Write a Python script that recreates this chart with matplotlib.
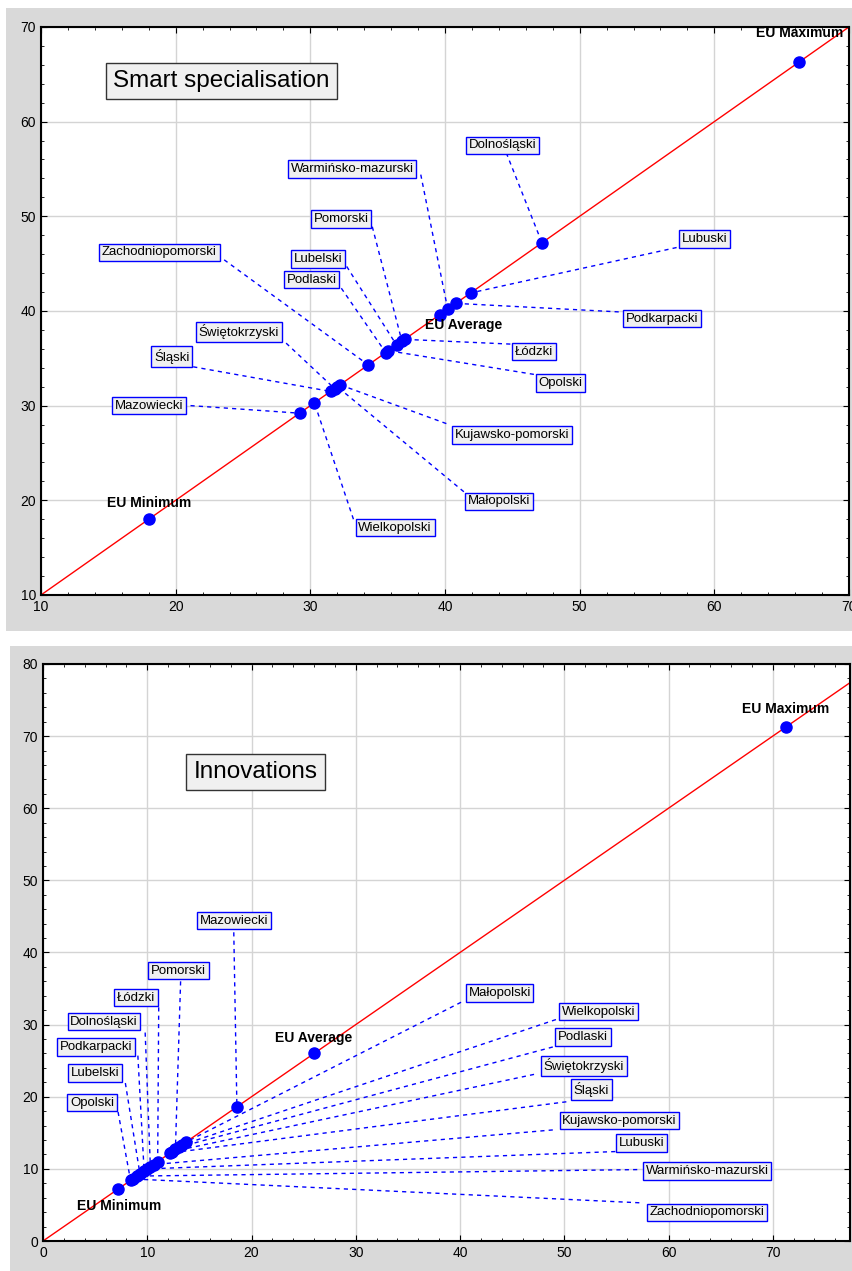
import matplotlib.pyplot as plt
from matplotlib.patches import Rectangle
from matplotlib.ticker import MultipleLocator

plt.rcParams['font.family'] = ['Liberation Sans', 'DejaVu Sans']

# region names and values (x = y, points lie on the diagonal)
regions = ['Dolnośląski', 'Kujawsko-pomorski', 'Lubelski', 'Lubuski', 'Łódzki',
           'Małopolski', 'Mazowiecki', 'Opolski', 'Podkarpacki', 'Podlaski',
           'Pomorski', 'Śląski', 'Świętokrzyski', 'Warmińsko-mazurski',
           'Wielkopolski', 'Zachodniopomorski']

smart_vals = [47.2, 32.2, 36.4, 41.9, 37.0,
              32.0, 29.2, 35.8, 40.8, 35.6,
              36.8, 31.5, 31.8, 40.2,
              30.3, 34.3]
smart_eu = {'EU Minimum': 18.0, 'EU Average': 39.6, 'EU Maximum': 66.3}

innov_vals = [10.3, 10.6, 9.3, 10.0, 11.0,
              13.7, 18.6, 8.4, 9.7, 13.0,
              12.7, 12.2, 12.4, 9.0,
              13.3, 8.6]
innov_eu = {'EU Minimum': 7.2, 'EU Average': 26.0, 'EU Maximum': 71.3}

# label box centres and leader-line start points (data coords)
smart_lab = [(44.3, 57.5), (45.0, 26.9), (30.6, 45.5), (59.3, 47.6), (46.6, 35.7),
             (44.0, 19.9), (18.0, 30.0), (48.6, 32.4), (56.1, 39.2), (30.1, 43.3),
             (32.3, 49.7), (19.7, 35.2), (24.7, 37.8), (33.1, 55.0),
             (36.3, 17.1), (18.8, 46.2)]
smart_anchor = [(44.55, 56.7), (40.1, 28.1), (32.7, 44.7), (57.2, 46.7), (44.85, 36.5),
                (41.4, 20.9), (21.1, 30.0), (46.6, 33.3), (52.9, 39.9), (32.3, 42.4),
                (34.6, 48.9), (21.3, 34.1), (28.2, 36.6), (38.2, 54.4),
                (33.2, 18.0), (23.6, 45.4)]
smart_eu_lab = {'EU Minimum': (18.0, 19.7), 'EU Average': (41.4, 38.5),
                'EU Maximum': (66.3, 69.4)}

innov_lab = [(5.85, 30.4), (55.3, 16.7), (5.0, 23.3), (57.4, 13.6), (8.9, 33.75),
             (43.8, 34.4), (18.3, 44.4), (4.7, 19.2), (5.1, 26.9), (51.8, 28.3),
             (13.0, 37.5), (52.6, 21.0), (51.9, 24.3), (63.7, 9.7),
             (53.3, 31.8), (63.7, 4.0)]
innov_anchor = [(9.8, 28.9), (48.9, 15.4), (7.9, 21.9), (54.9, 12.4), (11.1, 32.4),
                (40.1, 33.1), (18.3, 42.8), (7.2, 17.9), (9.1, 25.7), (48.9, 26.9),
                (13.2, 36.0), (50.2, 19.3), (47.1, 23.1), (57.0, 9.9),
                (49.2, 30.7), (57.2, 5.3)]
innov_eu_lab = {'EU Minimum': (7.3, 4.9), 'EU Average': (26.0, 28.1),
                'EU Maximum': (71.2, 73.75)}

fig = plt.figure(figsize=(8.53, 12.71), dpi=100)
fig.patches.append(Rectangle((0.007, 0.5035), 0.993, 0.490, transform=fig.transFigure,
                             facecolor='#d9d9d9', edgecolor='none', zorder=-10))
fig.patches.append(Rectangle((0.0117, 0.0), 0.988, 0.4917, transform=fig.transFigure,
                             facecolor='#d9d9d9', edgecolor='none', zorder=-10))


def panel(ax, vals, eu, lab, anchor, eu_lab, lims, title, title_pos):
    ax.set_xlim(lims[0], lims[1])
    ax.set_ylim(lims[2], lims[3])
    ax.plot([lims[0], lims[1]], [lims[0], lims[1]], color='red', lw=1, zorder=2)
    allv = list(vals) + list(eu.values())
    for v, (ax_, ay_) in zip(vals, anchor):
        ax.plot([ax_, v], [ay_, v], color='blue', lw=1, ls=(0, (3, 3)), zorder=1)
    ax.plot(allv, allv, 'o', color='blue', ms=8, zorder=3)
    for name, (lx, ly) in zip(regions, lab):
        ax.text(lx, ly, name, ha='center', va='center', fontsize=9.5, zorder=5,
                bbox=dict(boxstyle='square,pad=0.2', facecolor='#f0f0f0',
                          edgecolor='blue', lw=1))
    for name, (lx, ly) in eu_lab.items():
        ax.text(lx, ly, name, ha='center', va='center', fontsize=10,
                fontweight='bold', zorder=5)
    ax.text(title_pos[0], title_pos[1], title, ha='center', va='center', fontsize=17.5,
            zorder=5, bbox=dict(boxstyle='square,pad=0.3', facecolor='#f0f0f0',
                                edgecolor='#333333', lw=1))
    ax.xaxis.set_major_locator(MultipleLocator(10))
    ax.yaxis.set_major_locator(MultipleLocator(10))
    ax.xaxis.set_minor_locator(MultipleLocator(2))
    ax.yaxis.set_minor_locator(MultipleLocator(2))
    ax.tick_params(which='both', direction='in', top=True, right=True, labelsize=10)
    ax.tick_params(which='major', length=4)
    ax.tick_params(which='minor', length=2.5)
    ax.grid(True, which='major', color='#d4d4d4', lw=1)
    ax.set_axisbelow(True)
    for s in ax.spines.values():
        s.set_linewidth(1.5)


ax1 = fig.add_axes([0.0481, 0.5319, 0.9472, 0.4469])
panel(ax1, smart_vals, smart_eu, smart_lab, smart_anchor, smart_eu_lab,
      (10, 70, 10, 70), 'Smart specialisation', (23.4, 64.3))

ax2 = fig.add_axes([0.0504, 0.0236, 0.946, 0.454])
panel(ax2, innov_vals, innov_eu, innov_lab, innov_anchor, innov_eu_lab,
      (0, 77.4, 0, 80), 'Innovations', (20.4, 65.0))

fig.savefig('out.png', dpi=100)
